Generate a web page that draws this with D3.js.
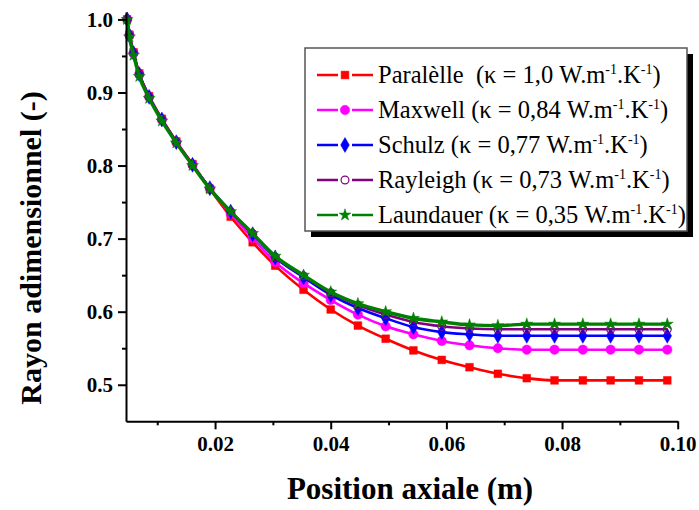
<!DOCTYPE html>
<html>
<head>
<meta charset="utf-8">
<script src="https://cdnjs.cloudflare.com/ajax/libs/d3/7.8.5/d3.min.js"></script>
<style>
  html, body { margin: 0; padding: 0; background: #fff; }
  svg { display: block; }
</style>
</head>
<body>
<svg id="chart" width="699" height="510"></svg>
<script>
// ---- data ----
const xPos = [0.0048, 0.0052, 0.0059, 0.0069, 0.0086, 0.0108, 0.0133, 0.0161, 0.0191, 0.0227, 0.0265,
              0.0304, 0.0353, 0.0400, 0.0447, 0.0495, 0.0543, 0.0592, 0.0640, 0.0689, 0.0739,
              0.0787, 0.0836, 0.0884, 0.0933, 0.0982];
const paralelle = [1.000, 0.979, 0.955, 0.926, 0.895, 0.864, 0.833, 0.802, 0.768, 0.730, 0.695,
                   0.663, 0.630, 0.603, 0.581, 0.563, 0.547, 0.534, 0.524, 0.515, 0.509,
                   0.506, 0.506, 0.506, 0.506, 0.506];
const maxwell   = [1.000, 0.979, 0.954, 0.925, 0.894, 0.863, 0.832, 0.801, 0.769, 0.734, 0.701,
                   0.668, 0.639, 0.616, 0.596, 0.580, 0.569, 0.560, 0.554, 0.550, 0.548,
                   0.548, 0.548, 0.548, 0.548, 0.548];
const schulz    = [1.000, 0.978, 0.954, 0.925, 0.894, 0.863, 0.832, 0.801, 0.769, 0.737, 0.706,
                   0.674, 0.647, 0.623, 0.605, 0.591, 0.579, 0.572, 0.569, 0.567, 0.567,
                   0.567, 0.567, 0.567, 0.567, 0.567];
const rayleigh  = [1.000, 0.978, 0.954, 0.925, 0.894, 0.863, 0.832, 0.801, 0.769, 0.737, 0.707,
                   0.675, 0.649, 0.626, 0.609, 0.596, 0.586, 0.580, 0.577, 0.576, 0.576,
                   0.576, 0.576, 0.576, 0.576, 0.576];
const laundauer = [1.000, 0.976, 0.951, 0.922, 0.892, 0.861, 0.831, 0.800, 0.768, 0.737, 0.707,
                   0.676, 0.650, 0.627, 0.611, 0.600, 0.591, 0.586, 0.582, 0.581, 0.583,
                   0.583, 0.583, 0.583, 0.583, 0.583];
const seriesNames = ["Paralèlle  (κ = 1,0 W.m", "Maxwell (κ = 0,84 W.m", "Schulz (κ = 0,77 W.m",
                     "Rayleigh (κ = 0,73 W.m", "Laundauer (κ = 0,35 W.m"];
const seriesColors = ["#ff0000", "#ff00ff", "#0000ff", "#800080", "#008000"];
const xMajorTicks = [0.02, 0.04, 0.06, 0.08, 0.10];
const xMinorTicks = [0.01, 0.03, 0.05, 0.07, 0.09];
const yMajorTicks = [0.5, 0.6, 0.7, 0.8, 0.9, 1.0];
const yMinorTicks = [0.55, 0.65, 0.75, 0.85, 0.95];
const xTitle = "Position axiale (m)";
const yTitle = "Rayon adimensionnel (-)";

// ---- chart ----
const FONT = "Liberation Serif";
const svg = d3.select("#chart");
const x = d3.scaleLinear().domain([0.0046, 0.10]).range([126, 677.7]);
const y = d3.scaleLinear().domain([0.45, 1.01]).range([421.3, 12.1]);

const series = [paralelle, maxwell, schulz, rayleigh, laundauer].map((vals, i) => ({
  name: seriesNames[i], color: seriesColors[i],
  points: vals.map((v, j) => [xPos[j], v])
}));

const symbols = [
  {type: d3.symbolSquare, size: 60, fill: true},
  {type: d3.symbolCircle, size: 70, fill: true},
  {type: d3.symbolDiamond, size: 64, fill: true},
  {type: d3.symbolCircle, size: 48, fill: false},
  {type: d3.symbolStar, size: 44, fill: true}
];

const line = d3.line().x(d => x(d[0])).y(d => y(d[1])).curve(d3.curveMonotoneX);

series.forEach((s, i) => {
  const g = svg.append("g");
  g.append("path").datum(s.points)
    .attr("d", line).attr("fill", "none")
    .attr("stroke", s.color).attr("stroke-width", i === 4 ? 3.4 : 2.6)
    .attr("stroke-linejoin", "round");
  const sym = symbols[i];
  g.selectAll("path.m").data(s.points).join("path")
    .attr("class", "m")
    .attr("d", d3.symbol().type(sym.type).size(sym.size))
    .attr("transform", d => `translate(${x(d[0])},${y(d[1])})`)
    .attr("fill", sym.fill ? s.color : "none")
    .attr("stroke", s.color).attr("stroke-width", sym.fill ? 0.5 : 1.2);
});

// axes
const yAxis = svg.append("g").attr("transform", "translate(126,0)")
  .call(d3.axisLeft(y).tickValues(yMajorTicks).tickSize(8).tickSizeOuter(0).tickPadding(5)
        .tickFormat(d3.format(".1f")));
const yMinor = svg.append("g").attr("transform", "translate(126,0)")
  .call(d3.axisLeft(y).tickValues(yMinorTicks).tickSize(4).tickSizeOuter(0).tickFormat(""));
const xAxis = svg.append("g").attr("transform", "translate(0,421.3)")
  .call(d3.axisBottom(x).tickValues(xMajorTicks).tickSize(8).tickSizeOuter(0).tickPadding(7)
        .tickFormat(d3.format(".2f")));
const xMinor = svg.append("g").attr("transform", "translate(0,421.3)")
  .call(d3.axisBottom(x).tickValues(xMinorTicks).tickSize(4).tickSizeOuter(0).tickFormat(""));
[yMinor, xMinor].forEach(a => a.select(".domain").remove());
[yAxis, xAxis, yMinor, xMinor].forEach(a => {
  a.attr("font-family", FONT).attr("font-size", 21).attr("font-weight", "bold");
  a.selectAll("path, line").attr("stroke", "#000").attr("stroke-width", 2);
  a.selectAll("text").attr("fill", "#000");
});

// axis titles
svg.append("text").attr("x", 410).attr("y", 499).attr("text-anchor", "middle")
  .attr("font-family", FONT).attr("font-size", 31).attr("font-weight", "bold")
  .attr("fill", "#000").text(xTitle);
svg.append("text").attr("transform", "translate(41,248) rotate(-90)").attr("text-anchor", "middle")
  .attr("font-family", FONT).attr("font-size", 30).attr("font-weight", "bold")
  .attr("fill", "#000").text(yTitle);

// legend
const lg = svg.append("g");
const lx = 305, ly = 48, lw = 382, lh = 183;
lg.append("rect").attr("x", lx + 6).attr("y", ly + 6).attr("width", lw).attr("height", lh).attr("fill", "#000");
lg.append("rect").attr("x", lx).attr("y", ly).attr("width", lw).attr("height", lh)
  .attr("fill", "#fff").attr("stroke", "#555").attr("stroke-width", 1.5);
series.forEach((s, i) => {
  const cy = 75 + i * 35;
  lg.append("line").attr("x1", 317).attr("x2", 373).attr("y1", cy).attr("y2", cy)
    .attr("stroke", s.color).attr("stroke-width", 2.6);
  lg.append("line").attr("x1", 338).attr("x2", 352).attr("y1", cy).attr("y2", cy)
    .attr("stroke", "#fff").attr("stroke-width", 4);
  const sym = symbols[i];
  lg.append("path").attr("d", d3.symbol().type(sym.type).size(sym.size))
    .attr("transform", `translate(345,${cy})`)
    .attr("fill", sym.fill ? s.color : "none")
    .attr("stroke", s.color).attr("stroke-width", sym.fill ? 0.5 : 1.2);
  const t = lg.append("text").attr("x", 378).attr("y", cy + 8)
    .attr("font-family", FONT).attr("font-size", 24.5).attr("fill", "#000")
    .style("white-space", "pre");
  t.append("tspan").text(s.name);
  t.append("tspan").attr("dy", -9).attr("font-size", 14).text("-1");
  t.append("tspan").attr("dy", 9).text(".K");
  t.append("tspan").attr("dy", -9).attr("font-size", 14).text("-1");
  t.append("tspan").attr("dy", 9).text(")");
});
</script>
</body>
</html>
